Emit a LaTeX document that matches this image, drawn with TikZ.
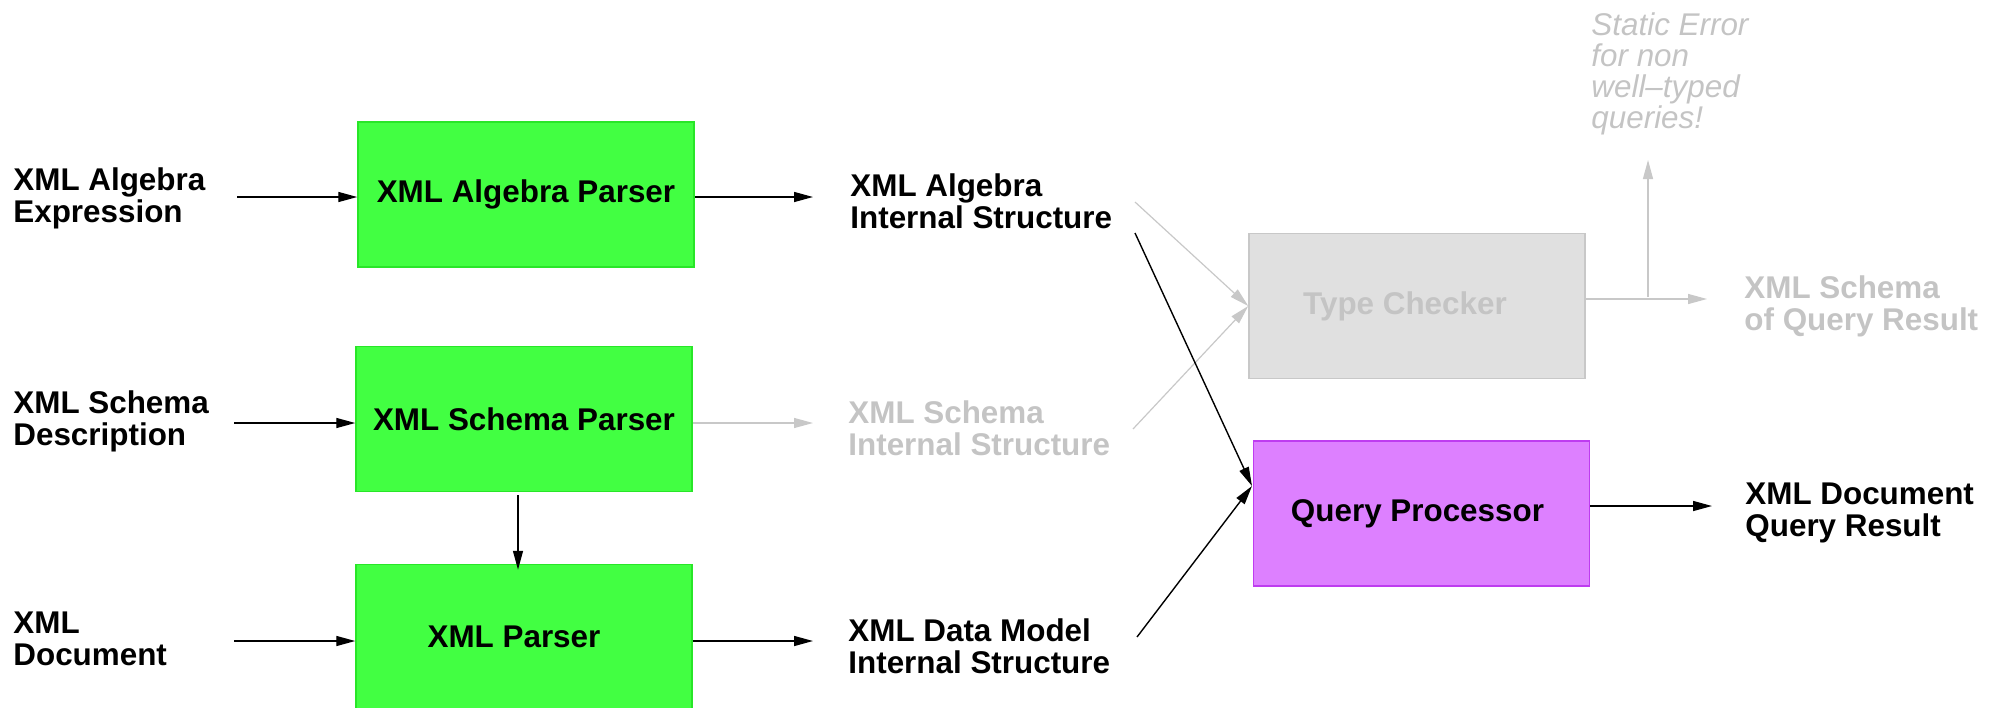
\documentclass[tikz,border=0pt]{standalone}
\usepackage{fontspec}
\setmainfont{Liberation Sans}
\usetikzlibrary{arrows.meta,calc}

\definecolor{boxgreen}{RGB}{66,255,66}
\definecolor{boxgreenline}{RGB}{40,230,40}
\definecolor{boxviolet}{RGB}{221,128,255}
\definecolor{boxvioletline}{RGB}{190,60,240}
\definecolor{boxgrey}{RGB}{224,224,224}
\definecolor{lightline}{RGB}{200,200,200}
\definecolor{lighttext}{RGB}{196,196,196}

\tikzset{
  every node/.style={font=\fontsize{15.7}{16}\selectfont\bfseries},
  procbox/.style={draw, line width=0.75pt, minimum width=168pt, minimum height=72.5pt,
                  inner sep=0pt, align=center},
  parser/.style={procbox, fill=boxgreen, draw=boxgreenline},
  checker/.style={procbox, fill=boxgrey, draw=lightline, text=lighttext},
  processor/.style={procbox, fill=boxviolet, draw=boxvioletline},
  % multi-line labels are placed by the baseline of their last line
  label/.style={anchor=base west, inner sep=0pt, align=left},
  faded/.style={text=lighttext},
  flow/.style={line width=0.7pt, -{Triangle[length=9.5pt,width=5pt]}},
  fadedflow/.style={flow, draw=lightline, line width=0.6pt,
                    -{Triangle[length=9.5pt,width=5pt,fill=lightline]}},
}

\begin{document}
\begin{tikzpicture}[x=0.5pt, y=-0.5pt]
\useasboundingbox (0,0) rectangle (1995,707);
\clip (0,0) rectangle (1995,707);

% processing boxes
\node[parser]    (ap) at (526,194.5) {XML Algebra Parser};
\node[parser]    (sp) at (524,419)   {XML Schema Parser};
\node[parser]    (xp) at (524,637)   {XML Parser\hspace*{10pt}};
\node[checker]   (tc) at (1417,306)  {Type Checker\hspace*{12pt}};
\node[processor] (qp) at (1421.5,513.5) {Query Processor\hspace*{4pt}};

% inputs
\node[label] (in1) at (13,222) {XML Algebra\\Expression};
\node[label] (in2) at (13,445) {XML Schema\\Description};
\node[label] (in3) at (13,665) {XML\\Document};

% intermediate structures
\node[label]        (mid1) at (850,228) {XML Algebra\\Internal Structure};
\node[label,faded]  (mid2) at (848,455) {XML Schema\\Internal Structure};
\node[label]        (mid3) at (848,673) {XML Data Model\\Internal Structure};

% results
\node[label,faded] (out1) at (1744,330) {XML Schema\\of Query Result};
\node[label]       (out2) at (1745,536) {XML Document\\Query Result};
\node[label, text=lighttext, font=\fontsize{15.7}{15.5}\selectfont\itshape]
     (err) at (1591,128) {Static Error\\for non\\well--typed\\queries!};

% connector end points
\coordinate (s1) at (237,197);
\coordinate (s2) at (234,423);
\coordinate (s3) at (234,641);
\coordinate (t1) at (813,197);
\coordinate (t2) at (813,423);
\coordinate (t3) at (813,641);
\coordinate (d1) at (1135,202);
\coordinate (d2) at (1135,233);
\coordinate (d3) at (1133,429);
\coordinate (d4) at (1137,637);
\coordinate (qpin) at (1252,486);
\coordinate (tcout) at (1707,299);
\coordinate (tcfork) at (1648,297);
\coordinate (errtip) at (1648,160);
\coordinate (qpout) at (1712,506);
\coordinate (spdown) at (518,495);

% parsing stage
\draw[flow] (s1) -- (s1 -| ap.west);
\draw[flow] (s2) -- (s2 -| sp.west);
\draw[flow] (s3) -- (s3 -| xp.west);
\draw[flow] (t1 -| ap.east) -- (t1);
\draw[fadedflow] (t2 -| sp.east) -- (t2);
\draw[flow] (t3 -| xp.east) -- (t3);
\draw[flow] (spdown) -- ($(spdown |- xp.north)+(0,6)$);

% type checking and evaluation
\draw[fadedflow] (d1) -- (tc.west);
\draw[fadedflow] (d3) -- (tc.west);
\draw[flow] (d2) -- (qpin);
\draw[flow] (d4) -- (qpin);
\draw[fadedflow] (tcout -| tc.east) -- (tcout);
\draw[fadedflow] (tcfork) -- (errtip);
\draw[flow] (qpout -| qp.east) -- (qpout);
\end{tikzpicture}
\end{document}
